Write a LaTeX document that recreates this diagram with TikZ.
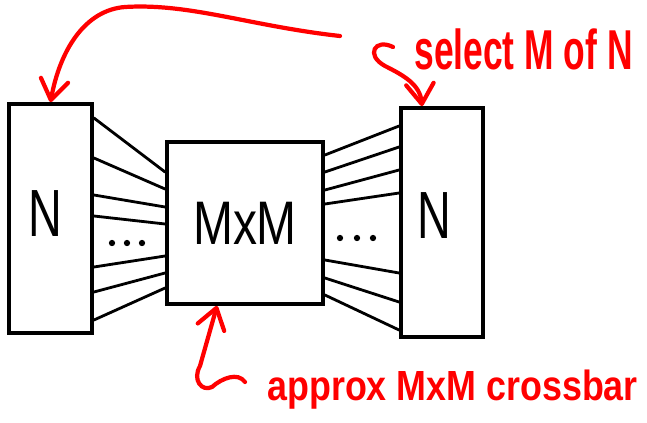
\documentclass[tikz,border=0pt]{standalone}
\usepackage{fontspec}
\setmainfont{Liberation Sans}
\usetikzlibrary{arrows.meta, calc}

\begin{document}
\begin{tikzpicture}[x=0.02cm, y=-0.02cm,
    >={Straight Barb[round, length=4mm, width=5.5mm]},
    box/.style={draw, line width=2.2pt, inner sep=0pt},
    wire/.style={line width=1.6pt, line cap=round},
    note/.style={red, line width=2.4pt, line cap=round},
    big/.style={font=\fontsize{38}{40}\selectfont}]
  \useasboundingbox (0,0) rectangle (647,423);
  % the three switches
  \node[box, minimum width=1.66cm, minimum height=4.58cm] (lbox) at (50.5,218.5) {};
  \node[box, font=\fontsize{35}{36}\selectfont, minimum width=3.12cm, minimum height=3.24cm] (mbox) at (245,223) {\scalebox{0.78}[1]{MxM}};
  \node[box, minimum width=1.64cm, minimum height=4.58cm] (rbox) at (442,222.5) {};
  \node[big] (lname) at (45,214) {\scalebox{0.7}[1]{N}};
  \node[big] (rname) at (434,216) {\scalebox{0.7}[1]{N}};
  % wires in and out
  \foreach \a/\b in {118/172, 158/189, 195/207, 216/224, 267/256, 292/273, 320/288}
    \draw[wire] (lbox.east |- 0,\a) -- (mbox.west |- 0,\b);
  \foreach \a/\b in {155/126, 172/147, 190/170, 204/193, 260/273, 278/302, 295/330}
    \draw[wire] (mbox.east |- 0,\a) -- (rbox.west |- 0,\b);
  \foreach \x in {112,127,142} \fill (\x,243) circle (1.8pt);
  \foreach \x in {340,357,373} \fill (\x,238) circle (1.8pt);
  % red notes
  \node[red, anchor=base west, inner sep=0pt, font=\bfseries\fontsize{32}{32}\selectfont] (sel) at (414,69) {\scalebox{0.63}[1]{select M of N}};
  \node[red, anchor=base west, inner sep=0pt, font=\bfseries\fontsize{24}{24}\selectfont] (apx) at (267,400) {\scalebox{0.85}[1]{approx MxM crossbar}};
  \coordinate (topfrom) at (340,36);
  \coordinate (selfrom) at (393,47);
  \coordinate (apxfrom) at (245,382);
  \draw[note, ->] (topfrom) .. controls (250,26) and (190,3) .. (125,7)
    .. controls (85,10) and (60,50) .. (lbox.north);
  \draw[note, ->] (selfrom) .. controls (375,38) and (365,55) .. (385,66)
    .. controls (405,76) and (420,85) .. ([xshift=-0.4cm]rbox.north);
  \draw[note, ->] (apxfrom) .. controls (238,372) and (222,378) .. (212,387)
    .. controls (202,392) and (192,380) .. (200,366) -- ([xshift=-0.56cm]mbox.south);
\end{tikzpicture}
\end{document}
